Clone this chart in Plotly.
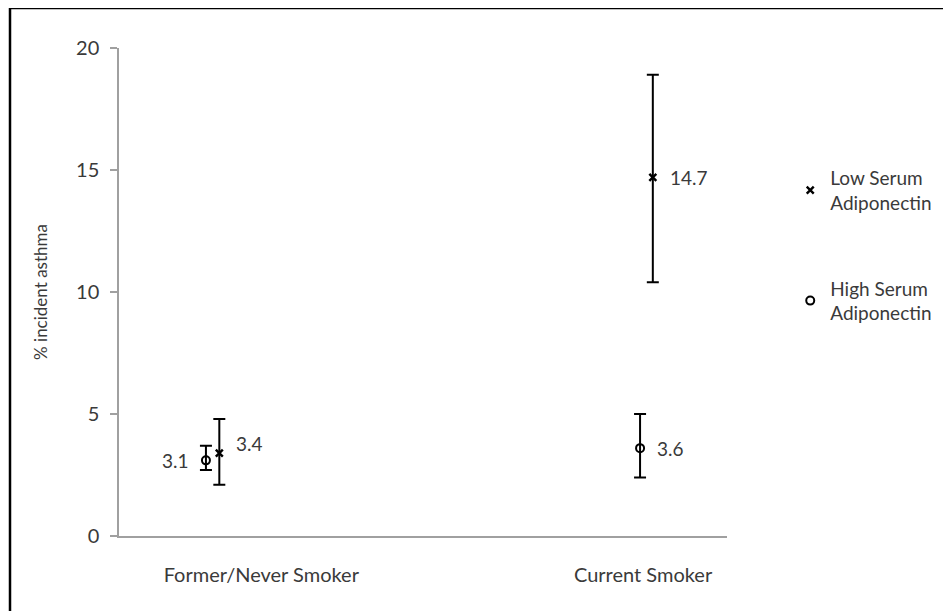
import plotly.graph_objects as go

categories = ["Former/Never Smoker", "Current Smoker"]

low_values = [3.4, 14.7]
low_upper = [4.8, 18.9]
low_lower = [2.1, 10.4]

high_values = [3.1, 3.6]
high_upper = [3.7, 5.0]
high_lower = [2.7, 2.4]

y_ticks = [0, 5, 10, 15, 20]

# layout positions (x axis scaled 0..1)
cat_label_pos = [0.234, 0.862]
low_x = [0.165, 0.878]
high_x = [0.143, 0.857]

FONT = "Lato"
TXT = "#3a3a3a"
LBL = 19

fig = go.Figure()

fig.add_trace(go.Scatter(
    x=low_x, y=low_values, mode="markers",
    name="Low Serum<br>Adiponectin", legendgroup="low",
    marker=dict(symbol="x-thin", size=7, color="black", line=dict(width=2.4, color="black")),
    error_y=dict(type="data", symmetric=False,
                 array=[u - v for u, v in zip(low_upper, low_values)],
                 arrayminus=[v - l for v, l in zip(low_values, low_lower)],
                 color="black", thickness=2, width=6),
))
fig.add_trace(go.Scatter(
    x=high_x, y=high_values, mode="markers",
    name="High Serum<br>Adiponectin", legendgroup="high",
    marker=dict(symbol="circle-open", size=8, color="black", line=dict(width=2, color="black")),
    error_y=dict(type="data", symmetric=False,
                 array=[u - v for u, v in zip(high_upper, high_values)],
                 arrayminus=[v - l for v, l in zip(high_values, high_lower)],
                 color="black", thickness=2, width=6),
))

# data labels
low_yshift = [10, 0]
for x, v, ys in zip(low_x, low_values, low_yshift):
    fig.add_annotation(x=x, y=v, text=f"{v}", showarrow=False, xanchor="left",
                       xshift=15, yshift=ys, font=dict(family=FONT, size=LBL, color=TXT))
high_side = ["left", "right"]
for x, v, side in zip(high_x, high_values, high_side):
    if side == "left":
        fig.add_annotation(x=x, y=v, text=f"{v}", showarrow=False, xanchor="right",
                           xshift=-15, font=dict(family=FONT, size=LBL, color=TXT))
    else:
        fig.add_annotation(x=x, y=v, text=f"{v}", showarrow=False, xanchor="left",
                           xshift=15, font=dict(family=FONT, size=LBL, color=TXT))

# outer frame
fig.add_shape(type="rect", xref="paper", yref="paper",
              x0=(10 - 119) / 608, x1=2, y0=-1, y1=(536 - 8) / 488,
              line=dict(color="black", width=2.5), layer="below")

fig.update_layout(
    width=943, height=603,
    margin=dict(l=111, r=224, t=40, b=75),
    paper_bgcolor="white", plot_bgcolor="white",
    font=dict(family=FONT, size=19, color=TXT),
    showlegend=True,
    legend=dict(x=1.104, y=0.7725, xanchor="left", yanchor="top",
                font=dict(family=FONT, size=19, color=TXT),
                tracegroupgap=58, itemwidth=30, bgcolor="rgba(0,0,0,0)"),
    xaxis=dict(range=[0, 1], showgrid=False, zeroline=False,
               showline=True, linecolor="#a0a0a0", linewidth=1.5,
               tickvals=cat_label_pos, ticktext=categories, ticks="",
               ticklabelstandoff=20, tickfont=dict(family=FONT, size=20, color=TXT)),
    yaxis=dict(range=[0, 20], tickvals=y_ticks, showgrid=False, zeroline=False,
               showline=True, linecolor="#a0a0a0", linewidth=1.5,
               ticks="outside", ticklen=7, tickcolor="#a0a0a0", tickwidth=1.5,
               ticklabelstandoff=7, tickfont=dict(family=FONT, size=20, color=TXT),
               title=dict(text="% incident asthma", standoff=24,
                          font=dict(family=FONT, size=17, color=TXT))),
)

fig.write_html("out.html")
